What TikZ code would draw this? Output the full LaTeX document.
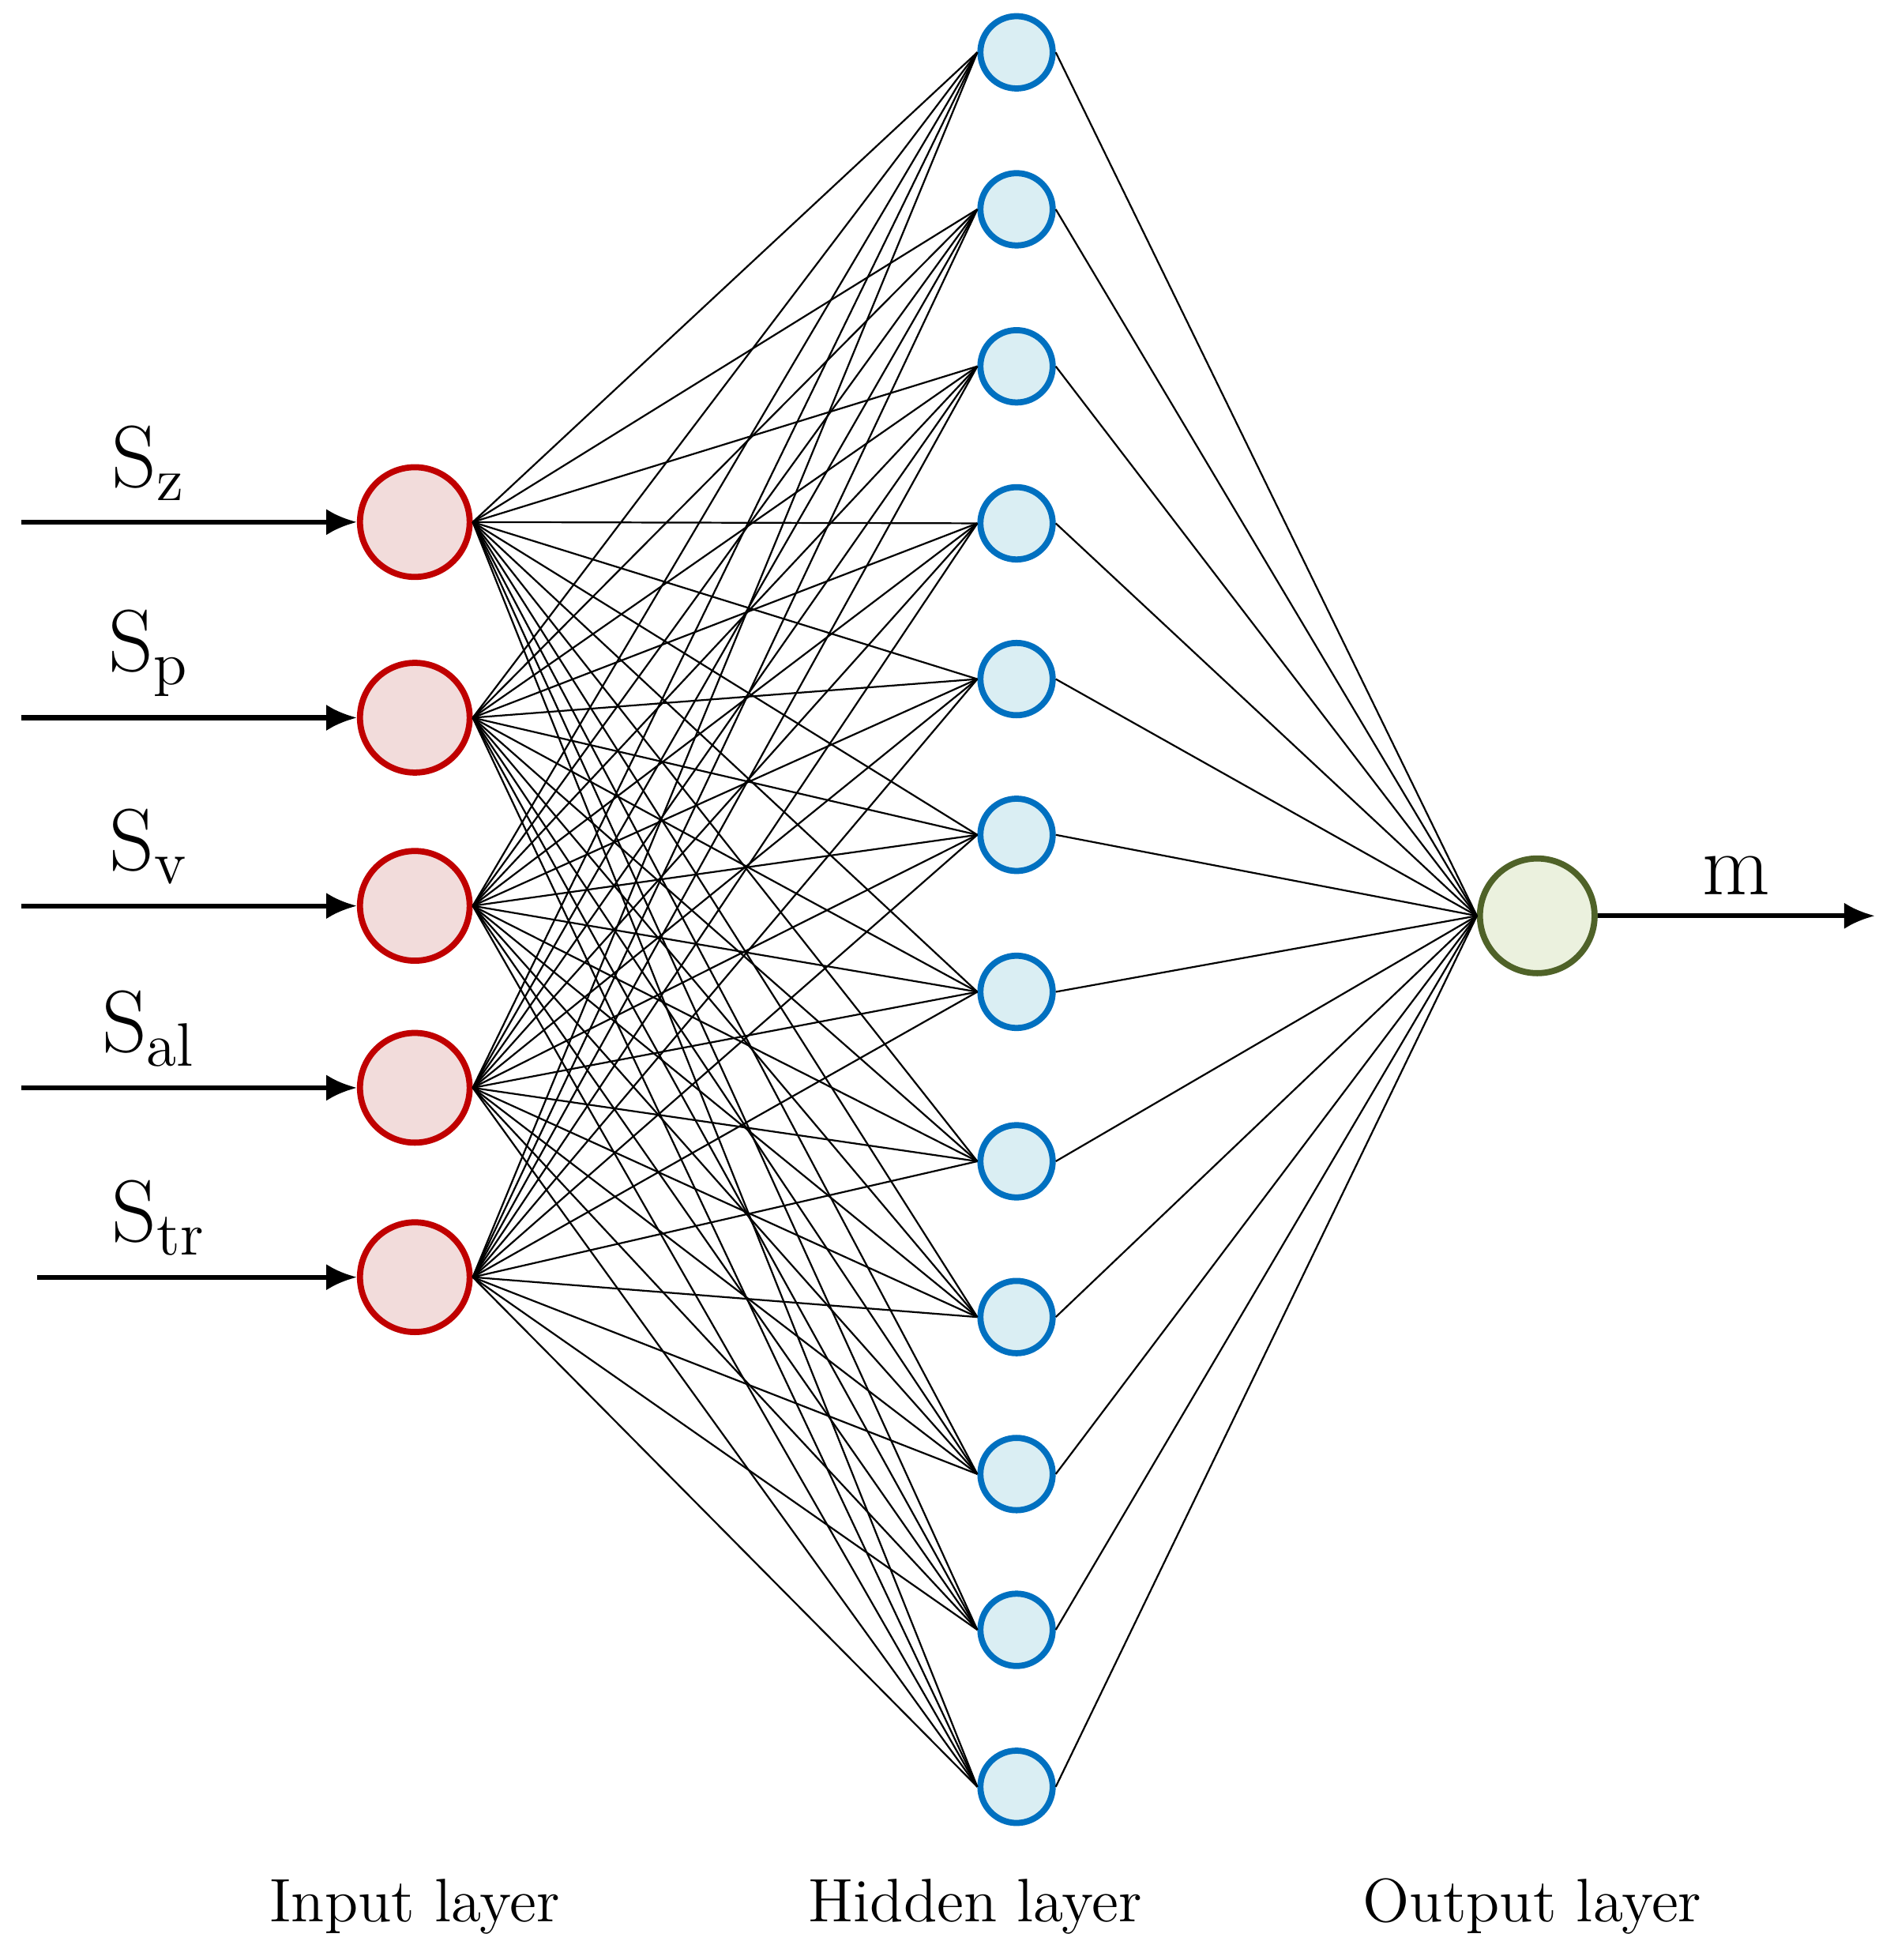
\documentclass[tikz,border=0pt]{standalone}
\usetikzlibrary{arrows.meta}
\definecolor{inred}{RGB}{192,0,0}
\definecolor{infill}{RGB}{242,220,219}
\definecolor{hidblue}{RGB}{0,112,192}
\definecolor{hidfill}{RGB}{218,238,243}
\definecolor{outgreen}{RGB}{79,98,40}
\definecolor{outfill}{RGB}{235,241,222}
\begin{document}
\begin{tikzpicture}[
    x=0.01cm, y=-0.01cm,
    font=\fontsize{14}{16}\selectfont,
    inneuron/.style={circle, draw=inred, fill=infill, line width=1.4pt, minimum size=0.88cm, inner sep=0pt},
    hidneuron/.style={circle, draw=hidblue, fill=hidfill, line width=1.4pt, minimum size=0.58cm, inner sep=0pt},
    outneuron/.style={circle, draw=outgreen, fill=outfill, line width=1.4pt, minimum size=0.92cm, inner sep=0pt},
    link/.style={line width=0.4pt},
    feed/.style={line width=1.1pt, -{Latex[length=7pt,width=6pt]}},
  ]
  \useasboundingbox (0,0) rectangle (1520,1573);
  % input layer
  \foreach \i/\y in {1/419,2/576,3/727,4/873,5/1025}
    \node[inneuron] (in\i) at (333,\y) {};
  % hidden layer
  \foreach \j/\y in {1/42,2/168,3/294,4/420,5/545,6/670,7/796,8/932,9/1057,10/1183,11/1308,12/1434}
    \node[hidneuron] (hid\j) at (816,\y) {};
  % output layer
  \node[outneuron] (out) at (1234,735) {};
  % connections
  \foreach \i in {1,...,5}
    \foreach \j in {1,...,12}
      \draw[link] (in\i.east) -- (hid\j.west);
  \foreach \j in {1,...,12}
    \draw[link] (hid\j.east) -- (out.west);
  % inputs
  \coordinate (s1) at (17,419);
  \coordinate (s2) at (17,576);
  \coordinate (s3) at (17,727);
  \coordinate (s4) at (17,873);
  \coordinate (s5) at (30,1025);
  \foreach \i/\t in {1/z,2/p,3/v,4/al,5/tr}
    \draw[feed] (s\i) -- (in\i.west) node[pos=0.38, above=1pt, font=\fontsize{20}{22}\selectfont] {S\textsubscript{\t}};
  % output
  \coordinate (mend) at (1505,735);
  \draw[feed] (out.east) -- (mend) node[midway, above=1pt, font=\fontsize{20}{22}\selectfont] {m};
  % layer names
  \node (inlabel) at (333,1530) {Input layer};
  \node (hidlabel) at (783,1530) {Hidden layer};
  \node (outlabel) at (1230,1530) {Output layer};
\end{tikzpicture}
\end{document}
